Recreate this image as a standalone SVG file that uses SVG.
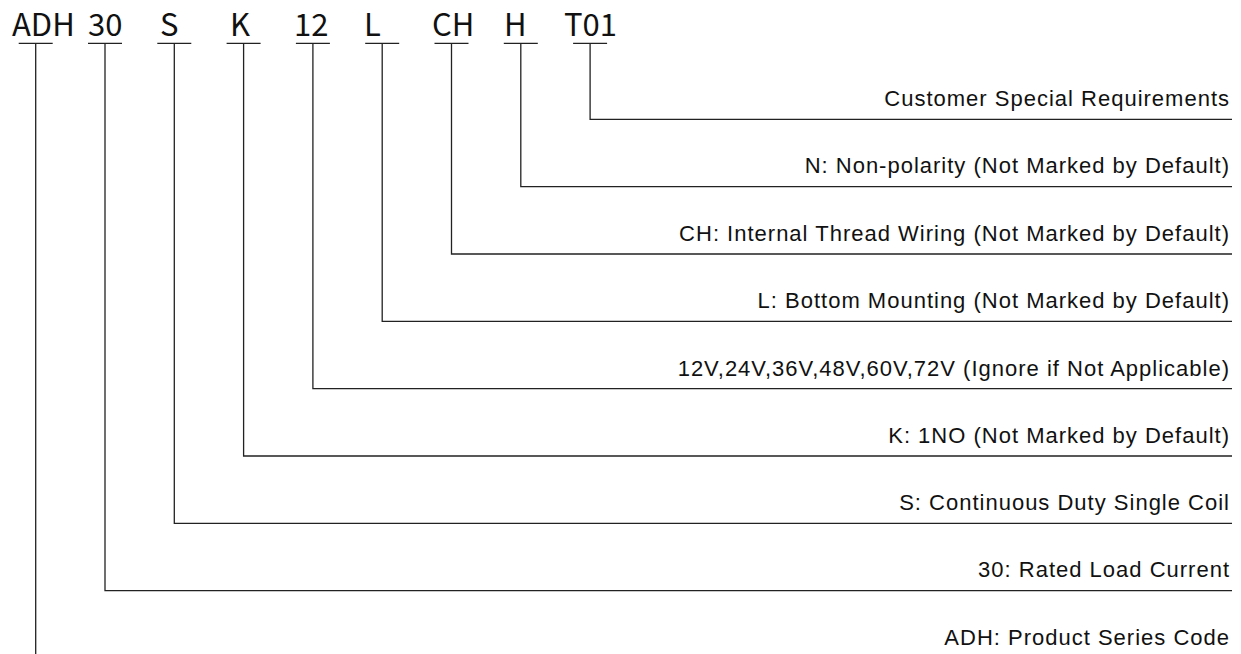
<svg xmlns="http://www.w3.org/2000/svg" width="1241" height="654" viewBox="0 0 1241 654">
<style>
.code{font-family:"Noto Sans CJK SC","Noto Sans",sans-serif;font-size:31px;fill:#111}
.lbl{font-family:"Liberation Sans",Arial,sans-serif;font-size:22px;letter-spacing:1px;fill:#111;text-anchor:end}
.ln{stroke:#222;stroke-width:1.3;fill:none}
</style>
<rect width="1241" height="654" fill="#fff"/>
<g id="header">
<text class="code" x="12" y="36">ADH</text>
<text class="code" x="88" y="36">30</text>
<text class="code" x="160" y="36">S</text>
<text class="code" x="230" y="36">K</text>
<text class="code" x="294" y="36">12</text>
<text class="code" x="364" y="36">L</text>
<text class="code" x="432" y="36">CH</text>
<text class="code" x="504" y="36">H</text>
<text class="code" x="564" y="36">T01</text>
</g>
<g id="connectors" class="ln">
<path d="M18.7 43.3H52.7M35.7 43.3V654"/>
<path d="M88 43.3H122M105 43.3V590.7H1232"/>
<path d="M157.3 43.3H191.3M174.3 43.3V523.3H1232"/>
<path d="M226.6 43.3H260.6M243.6 43.3V456H1232"/>
<path d="M295.9 43.3H329.9M312.9 43.3V388.7H1232"/>
<path d="M365.2 43.3H399.2M382.2 43.3V321.3H1232"/>
<path d="M434.5 43.3H468.5M451.5 43.3V254H1232"/>
<path d="M503.8 43.3H537.8M520.8 43.3V186.7H1232"/>
<path d="M573.1 43.3H607.1M590.1 43.3V119.3H1232"/>
</g>
<g id="n-t01"><text class="lbl" x="1230" y="106">Customer Special Requirements</text></g>
<g id="n-h"><text class="lbl" x="1230" y="173.4">N: Non-polarity (Not Marked by Default)</text></g>
<g id="n-ch"><text class="lbl" x="1230" y="240.7">CH: Internal Thread Wiring (Not Marked by Default)</text></g>
<g id="n-l"><text class="lbl" x="1230" y="308">L: Bottom Mounting (Not Marked by Default)</text></g>
<g id="n-12"><text class="lbl" x="1230" y="375.7">12V,24V,36V,48V,60V,72V (Ignore if Not Applicable)</text></g>
<g id="n-k"><text class="lbl" x="1230" y="442.7">K: 1NO (Not Marked by Default)</text></g>
<g id="n-s"><text class="lbl" x="1230" y="510">S: Continuous Duty Single Coil</text></g>
<g id="n-30"><text class="lbl" x="1230" y="577.4">30: Rated Load Current</text></g>
<g id="n-adh"><text class="lbl" x="1230" y="644.7">ADH: Product Series Code</text></g>
</svg>
